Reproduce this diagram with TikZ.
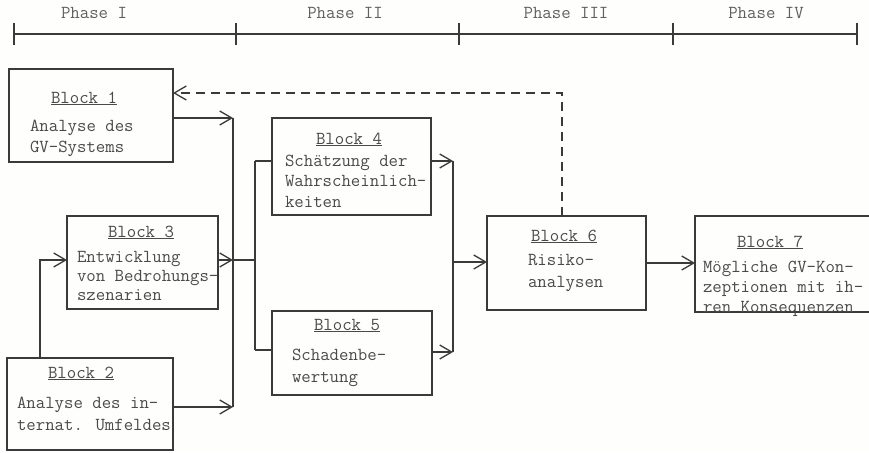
\documentclass[tikz,border=0pt]{standalone}
\usepackage{fontspec}
\usetikzlibrary{arrows.meta}
\definecolor{inkline}{HTML}{3A3A3A}
\definecolor{inktext}{HTML}{4A4A4A}
\definecolor{inkphase}{HTML}{606060}
\definecolor{paper}{HTML}{FEFEFD}
% body text: #1 = line spacing, #2 = lines
\newcommand\bodytext[2]{\fontsize{18.3}{#1}\selectfont\begin{tabular}[t]{@{}l@{}}#2\end{tabular}}
\newcommand\blocktitle[1]{\underline{Block #1}}
\begin{document}
\begin{tikzpicture}[x=1pt,y=-1pt,
  every node/.style={inner sep=0pt, outer sep=0pt},
  blockbox/.style={draw=inkline, line width=1.3pt, anchor=north west, rectangle},
  wire/.style={draw=inkline, line width=1.3pt},
  arr/.style={-{Straight Barb[length=12pt,width=14pt,line width=1.3pt]}},
  fb/.style={dash pattern=on 9pt off 6pt},
  ttl/.style={font=\ttfamily\fontsize{18.3}{20}\selectfont, text=inktext, anchor=base},
  body/.style={font=\ttfamily, text=inktext, anchor=base west},
  phase/.style={font=\ttfamily\fontsize{18.3}{20}\selectfont, text=inkphase, anchor=base},
  tick/.style={draw=inkline, line width=1.3pt}
]
\fill[paper] (0,0) rectangle (869,452);
\useasboundingbox (0,0) rectangle (869,452);

% time axis with phases
\coordinate (t0) at (14,34);
\coordinate (t1) at (236,34);
\coordinate (t2) at (459,34);
\coordinate (t3) at (673,34);
\coordinate (t4) at (857,34);
\draw[tick] (t0) -- (t4);
\foreach \t in {t0,t1,t2,t3,t4} \draw[tick] ([yshift=-11pt]\t) -- ([yshift=11pt]\t);
\node[phase] (p1) at (94,19) {Phase I};
\node[phase] (p2) at (345,19) {Phase II};
\node[phase] (p3) at (566,19) {Phase III};
\node[phase] (p4) at (766,19) {Phase IV};

% blocks
\node[blockbox, minimum width=164pt, minimum height=93pt] (b1) at (9,69) {};
\node[blockbox, minimum width=151pt, minimum height=93pt] (b3) at (67,216) {};
\node[blockbox, minimum width=166pt, minimum height=92pt] (b2) at (7,358) {};
\node[blockbox, minimum width=159pt, minimum height=97pt] (b4) at (272,118) {};
\node[blockbox, minimum width=160pt, minimum height=84pt] (b5) at (272,311) {};
\node[blockbox, minimum width=159pt, minimum height=94pt] (b6) at (487,216) {};
\node[blockbox, minimum width=185pt, minimum height=96pt] (b7) at (695,216) {};

% block texts
\node[ttl] (h1) at (84,103) {\blocktitle{1}};
\node[body] (x1) at (30,131) {\bodytext{21}{Analyse des\\GV-Systems}};
\node[ttl] (h3) at (141,237) {\blocktitle{3}};
\node[body] (x3) at (77,262) {\bodytext{19}{Entwicklung\\von Bedrohungs-\\szenarien}};
\node[ttl] (h2) at (81,378) {\blocktitle{2}};
\node[body] (x2) at (17,408) {\bodytext{22}{Analyse des in-\\ternat. Umfeldes}};
\node[ttl] (h4) at (349,144) {\blocktitle{4}};
\node[body] (x4) at (285,166) {\bodytext{20.5}{Schätzung der\\Wahrscheinlich-\\keiten}};
\node[ttl] (h5) at (347,330) {\blocktitle{5}};
\node[body] (x5) at (292,360) {\bodytext{22}{Schadenbe-\\wertung}};
\node[ttl] (h6) at (564,241) {\blocktitle{6}};
\node[body] (x6) at (528,265) {\bodytext{22}{Risiko-\\analysen}};
\node[ttl] (h7) at (770,247) {\blocktitle{7}};
\node[body] (x7) at (703,272) {\bodytext{20}{Mögliche GV-Kon-\\zeptionen mit ih-\\ren Konsequenzen}};

% junction points of the connectors
\coordinate (ja) at (233,118);
\coordinate (jb) at (233,407);
\coordinate (jc) at (233,260);
\coordinate (jd) at (255,260);
\coordinate (je) at (255,161);
\coordinate (jf) at (255,350);
\coordinate (jg) at (453,161);
\coordinate (jh) at (453,352);
\coordinate (ji) at (453,262);
\coordinate (jk) at (562,93);
\coordinate (jl) at (40,260);

% phase I collector
\draw[wire,arr] (b1.east |- ja) -- (ja);
\draw[wire,arr] (b2.east |- jb) -- (jb);
\draw[wire,arr] (b3.east |- jc) -- (jc);
\draw[wire] (ja) -- (jb);
\draw[wire,arr] (b2.north -| jl) -- (jl) -- (b3.west |- jl);

% phase II distribution
\draw[wire] (jc) -- (jd);
\draw[wire] (je) -- (jf);
\draw[wire] (je) -- (b4.west |- je);
\draw[wire] (jf) -- (b5.west |- jf);
\draw[wire,arr] (b4.east |- jg) -- (jg);
\draw[wire,arr] (b5.east |- jh) -- (jh);
\draw[wire] (jg) -- (jh);
\draw[wire,arr] (ji) -- (b6.west |- ji);

% phase III/IV
\draw[wire,arr] (b6.east) -- (b7.west |- b6.east);
\draw[wire,fb,arr] (b6.north -| jk) -- (jk) -- (b1.east |- jk);
\end{tikzpicture}
\end{document}
